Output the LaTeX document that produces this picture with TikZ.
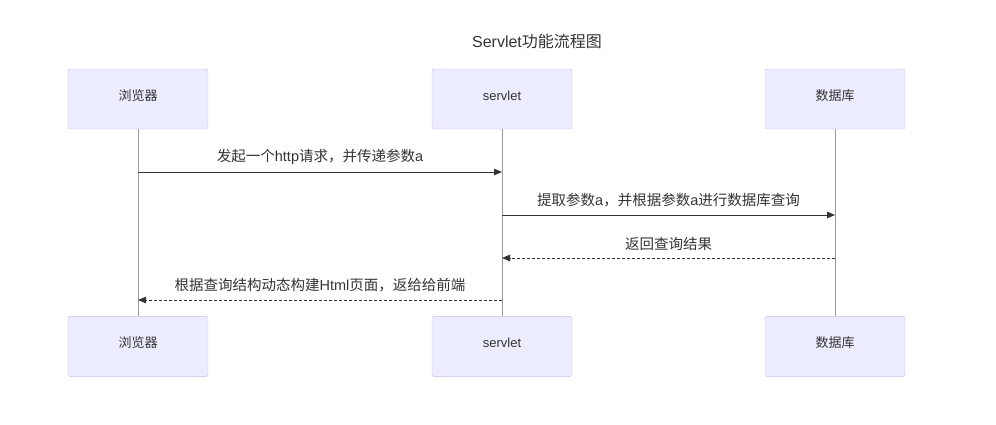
\documentclass[tikz,border=0pt]{standalone}
\usepackage{xcolor}
\usepackage{fontspec}
\usepackage{tikz}
\usetikzlibrary{arrows.meta,positioning}
\setmainfont{Liberation Sans}
\newfontfamily\cjk{Noto Sans CJK SC}
\definecolor{actorfill}{HTML}{ECECFF}
\definecolor{actorline}{HTML}{C8BCEC}
\definecolor{txt}{HTML}{333333}

\begin{document}
\begin{tikzpicture}[x=1pt, y=-1pt, font=\fontsize{13}{15}\selectfont, text=txt,
    actor/.style={rectangle, draw=actorline, fill=actorfill, rounded corners=2pt, minimum width=140pt, minimum height=60pt, text height=9pt, text depth=6pt},
    life/.style={draw=gray!80, line width=0.6pt},
    msg/.style={-{Triangle[length=8pt,width=6.5pt]}, draw=txt, line width=1pt},
    reply/.style={msg, dash pattern=on 3pt off 2pt},
    lbl/.style={above=4pt, font=\fontsize{14.5}{16}\selectfont}]
    \useasboundingbox (0,0) rectangle (996,424);

    \node[font=\fontsize{16}{18}\selectfont] (title) at (537,41) {Servlet{\cjk 功能流程图}};

    \node[actor] (browser) at (138,99) {\cjk 浏览器};
    \node[actor] (servlet) at (502,99) {servlet};
    \node[actor] (db) at (835,99) {\cjk 数据库};
    \node[actor, below=187pt of browser] (browser2) {\cjk 浏览器};
    \node[actor, below=187pt of servlet] (servlet2) {servlet};
    \node[actor, below=187pt of db] (db2) {\cjk 数据库};

    \draw[life] (browser) -- (browser2);
    \draw[life] (servlet) -- (servlet2);
    \draw[life] (db) -- (db2);

    \coordinate (m1a) at (138,172); \coordinate (m1b) at (502,172);
    \coordinate (m2a) at (502,215); \coordinate (m2b) at (835,215);
    \coordinate (m3a) at (835,258); \coordinate (m3b) at (502,258);
    \coordinate (m4a) at (502,300); \coordinate (m4b) at (138,300);

    \draw[msg] (m1a) -- node[lbl] {{\cjk 发起一个}http{\cjk 请求，并传递参数}a} (m1b);
    \draw[msg] (m2a) -- node[lbl] {{\cjk 提取参数}a{\cjk ，并根据参数}a{\cjk 进行数据库查询}} (m2b);
    \draw[reply] (m3a) -- node[lbl] {\cjk 返回查询结果} (m3b);
    \draw[reply] (m4a) -- node[lbl] {{\cjk 根据查询结构动态构建}Html{\cjk 页面，返给给前端}} (m4b);
\end{tikzpicture}
\end{document}
